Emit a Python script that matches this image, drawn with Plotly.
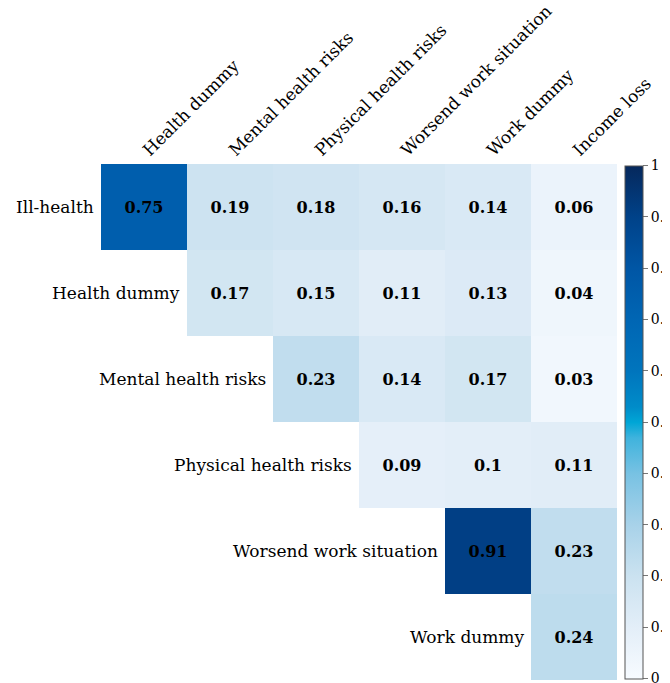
import plotly.graph_objects as go

rows = ["Ill-health", "Health dummy", "Mental health risks", "Physical health risks",
        "Worsend work situation", "Work dummy"]
cols = ["Health dummy", "Mental health risks", "Physical health risks",
        "Worsend work situation", "Work dummy", "Income loss"]

# upper triangle of the correlation matrix (None = empty cell)
ill_health = [0.75, 0.19, 0.18, 0.16, 0.14, 0.06]
health_dummy = [None, 0.17, 0.15, 0.11, 0.13, 0.04]
mental_risks = [None, None, 0.23, 0.14, 0.17, 0.03]
physical_risks = [None, None, None, 0.09, 0.1, 0.11]
worsend_work = [None, None, None, None, 0.91, 0.23]
work_dummy = [None, None, None, None, None, 0.24]

z = [ill_health, health_dummy, mental_risks, physical_risks, worsend_work, work_dummy]
text = [["" if v is None else "<b>{}</b>".format(v) for v in r] for r in z]

cbar_ticks = [0, 0.1, 0.2, 0.3, 0.4, 0.5, 0.6, 0.7, 0.8, 0.9, 1]

scale = [[0, "#f7fbff"], [0.1, "#e3eef8"], [0.2, "#cbe2f0"], [0.3, "#a8d2e9"],
         [0.4, "#78c2e3"], [0.47, "#3fb3dd"], [0.5, "#00a6d6"], [0.53, "#008cc9"],
         [0.6, "#0075bd"], [0.7, "#0066b4"], [0.8, "#0056a5"], [0.9, "#004289"],
         [1, "#06285c"]]

FONT = "DejaVu Serif"

f = go.Figure(go.Heatmap(
    z=z, x=cols, y=rows, text=text, texttemplate="%{text}",
    textfont=dict(family=FONT, size=16, color="black"),
    colorscale=scale, zmin=0, zmax=1, hoverongaps=False,
    colorbar=dict(x=1.0155, xanchor="left", xpad=0, y=0.5, yanchor="middle", ypad=0,
                  len=513, lenmode="pixels", thickness=18,
                  outlinecolor="#555", outlinewidth=1,
                  ticks="outside", ticklen=5, tickcolor="#777",
                  tickvals=cbar_ticks, ticktext=[str(t) for t in cbar_ticks],
                  tickfont=dict(family=FONT, size=14, color="black")),
))

# row labels sit right next to the first filled cell of every row
for i, name in enumerate(rows):
    f.add_annotation(x=i - 0.5, y=name, xref="x", yref="y", text=name,
                     xanchor="right", showarrow=False, xshift=-5,
                     font=dict(family=FONT, size=17, color="black"))

# fixed ranges so the annotations don't widen the autorange
f.update_layout(template="simple_white", width=670, height=683,
                margin=dict(l=93, r=61, t=156, b=11, autoexpand=False),
                plot_bgcolor="white", paper_bgcolor="white",
                xaxis=dict(side="top", tickangle=-45, showline=False, ticks="",
                           automargin=False, range=[-0.5, 5.5],
                           tickfont=dict(family=FONT, size=17, color="black")),
                yaxis=dict(range=[5.5, -0.5], showline=False, ticks="",
                           automargin=False, showticklabels=False))

f.write_html("out.html")
